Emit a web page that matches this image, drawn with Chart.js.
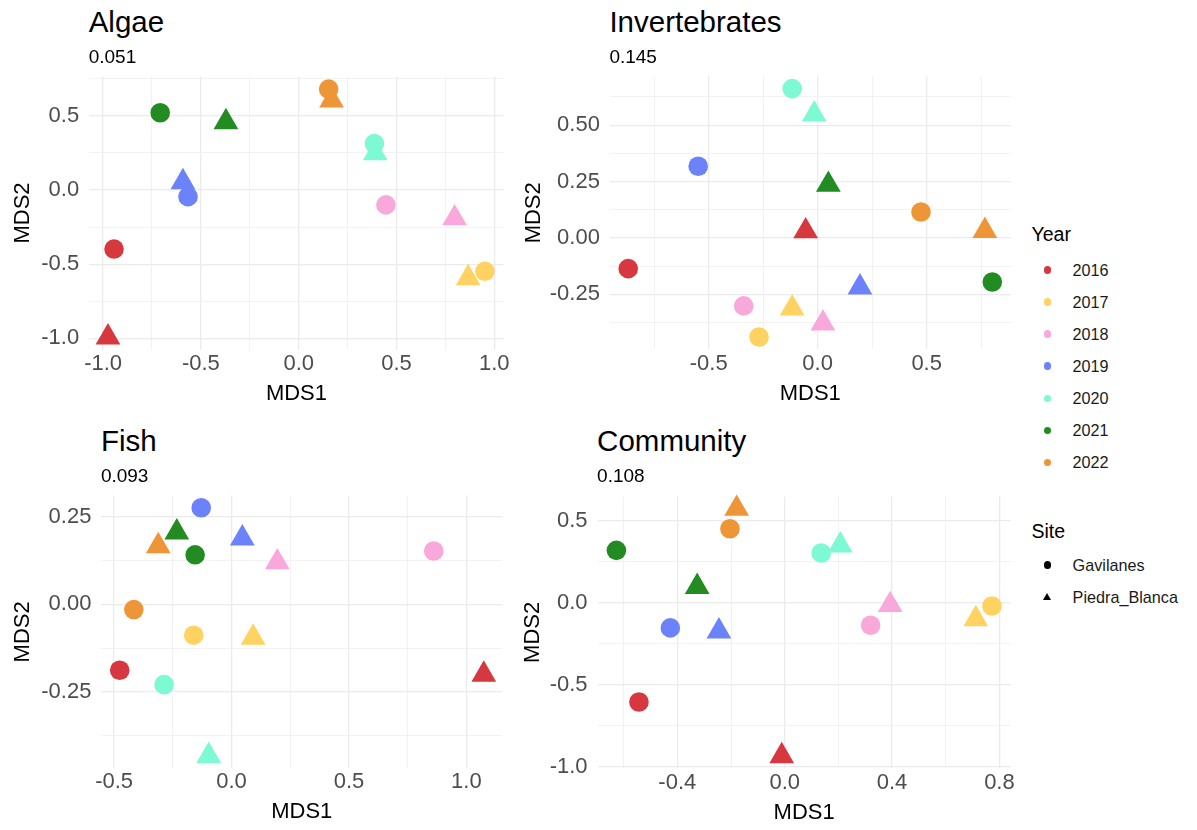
<!DOCTYPE html>
<html>
<head>
<meta charset="utf-8">
<script src="https://cdn.jsdelivr.net/npm/chart.js@4.4.1/dist/chart.umd.min.js"></script>
<style>
html, body { margin: 0; padding: 0; background: #ffffff; }
body { width: 1197px; height: 830px; position: relative; overflow: hidden;
       font-family: "Liberation Sans", Arial, Helvetica, sans-serif; }
canvas.panel { position: absolute; }
.txt { position: absolute; white-space: nowrap; line-height: 1; color: #000; }
.key { position: absolute; }
</style>
</head>
<body>
<script>
// ---------------- data ----------------
const years = ['2016', '2017', '2018', '2019', '2020', '2021', '2022'];
const sites = ['Gavilanes', 'Piedra_Blanca'];
const panelTitles = ['Algae', 'Invertebrates', 'Fish', 'Community'];
const stressValues = ['0.051', '0.145', '0.093', '0.108'];

// Algae (index = year)
const algaeGavMDS1 = [-0.944, 0.952, 0.446, -0.566, 0.387, -0.708, 0.153];
const algaeGavMDS2 = [-0.398, -0.548, -0.100, -0.045, 0.313, 0.521, 0.680];
const algaePbMDS1  = [-0.975, 0.866, 0.797, -0.592, 0.391, -0.372, 0.168];
const algaePbMDS2  = [-0.993, -0.593, -0.190, 0.054, 0.248, 0.458, 0.604];

// Invertebrates
const invGavMDS1 = [-0.869, -0.269, -0.339, -0.548, -0.117, 0.801, 0.474];
const invGavMDS2 = [-0.136, -0.439, -0.301, 0.318, 0.662, -0.195, 0.115];
const invPbMDS1  = [-0.055, -0.117, 0.024, 0.194, -0.016, 0.049, 0.767];
const invPbMDS2  = [0.030, -0.312, -0.378, -0.219, 0.548, 0.236, 0.032];

// Fish
const fishGavMDS1 = [-0.476, -0.161, 0.861, -0.129, -0.287, -0.155, -0.416];
const fishGavMDS2 = [-0.188, -0.088, 0.152, 0.275, -0.229, 0.141, -0.015];
const fishPbMDS1  = [1.074, 0.092, 0.195, 0.046, -0.097, -0.233, -0.312];
const fishPbMDS2  = [-0.200, -0.095, 0.120, 0.188, -0.432, 0.205, 0.166];

// Community
const comGavMDS1 = [-0.543, 0.772, 0.320, -0.426, 0.136, -0.627, -0.204];
const comGavMDS2 = [-0.604, -0.018, -0.136, -0.152, 0.305, 0.321, 0.453];
const comPbMDS1  = [-0.011, 0.712, 0.393, -0.245, 0.207, -0.326, -0.179];
const comPbMDS2  = [-0.933, -0.098, -0.012, -0.173, 0.352, 0.099, 0.575];

// tick values (grid) and tick labels ('' = minor grid line)
const algaeXTicks  = [-1.0, -0.75, -0.5, -0.25, 0, 0.25, 0.5, 0.75, 1.0];
const algaeXLabels = ['-1.0', '', '-0.5', '', '0.0', '', '0.5', '', '1.0'];
const algaeYTicks  = [-1.0, -0.75, -0.5, -0.25, 0, 0.25, 0.5, 0.75];
const algaeYLabels = ['-1.0', '', '-0.5', '', '0.0', '', '0.5', ''];

const invXTicks  = [-0.75, -0.5, -0.25, 0, 0.25, 0.5, 0.75];
const invXLabels = ['', '-0.5', '', '0.0', '', '0.5', ''];
const invYTicks  = [-0.375, -0.25, -0.125, 0, 0.125, 0.25, 0.375, 0.5, 0.625];
const invYLabels = ['', '-0.25', '', '0.00', '', '0.25', '', '0.50', ''];

const fishXTicks  = [-0.5, -0.25, 0, 0.25, 0.5, 0.75, 1.0];
const fishXLabels = ['-0.5', '', '0.0', '', '0.5', '', '1.0'];
const fishYTicks  = [-0.375, -0.25, -0.125, 0, 0.125, 0.25];
const fishYLabels = ['', '-0.25', '', '0.00', '', '0.25'];

const comXTicks  = [-0.6, -0.4, -0.2, 0, 0.2, 0.4, 0.6, 0.8];
const comXLabels = ['', '-0.4', '', '0.0', '', '0.4', '', '0.8'];
const comYTicks  = [-1.0, -0.75, -0.5, -0.25, 0, 0.25, 0.5];
const comYLabels = ['-1.0', '', '-0.5', '', '0.0', '', '0.5'];

// axis limits
const algaeXRange = [-1.071, 1.048], algaeYRange = [-1.077, 0.767];
const invXRange   = [-0.953, 0.885], invYRange   = [-0.494, 0.717];
const fishXRange  = [-0.554, 1.152], fishYRange  = [-0.467, 0.310];
const comXRange   = [-0.697, 0.842], comYRange   = [-1.008, 0.650];

// ---------------- styles ----------------
const yearColors = ['#D7373F', '#FFD262', '#F8A8DA', '#6B82FB', '#7DF9D3', '#228B22', '#EE9537'];
const FONT = '"Liberation Sans", Arial, Helvetica, sans-serif';
Chart.defaults.font.family = FONT;

const panels = [
  { title: panelTitles[0], stress: stressValues[0],
    gx: algaeGavMDS1, gy: algaeGavMDS2, px: algaePbMDS1, py: algaePbMDS2,
    xt: algaeXTicks, xl: algaeXLabels, yt: algaeYTicks, yl: algaeYLabels,
    xr: algaeXRange, yr: algaeYRange,
    box: { cx: 0, cy: 46, cw: 524, ch: 361 }, plot: { L: 89.2, T: 76.2, R: 503.7, B: 349.8 },
    ytPad: 10.1, titleBase: 31.7, subBase: 63.3 },
  { title: panelTitles[1], stress: stressValues[1],
    gx: invGavMDS1, gy: invGavMDS2, px: invPbMDS1, py: invPbMDS2,
    xt: invXTicks, xl: invXLabels, yt: invYTicks, yl: invYLabels,
    xr: invXRange, yr: invYRange,
    box: { cx: 520, cy: 46, cw: 511, ch: 361 }, plot: { L: 609.9, T: 76.2, R: 1010.6, B: 349.4 },
    ytPad: 0.5, titleBase: 31.7, subBase: 63.3 },
  { title: panelTitles[2], stress: stressValues[2],
    gx: fishGavMDS1, gy: fishGavMDS2, px: fishPbMDS1, py: fishPbMDS2,
    xt: fishXTicks, xl: fishXLabels, yt: fishYTicks, yl: fishYLabels,
    xr: fishXRange, yr: fishYRange,
    box: { cx: 0, cy: 465, cw: 522, ch: 360 }, plot: { L: 101.4, T: 495.5, R: 502.1, B: 768.2 },
    ytPad: 10.1, titleBase: 450.5, subBase: 481.6 },
  { title: panelTitles[3], stress: stressValues[3],
    gx: comGavMDS1, gy: comGavMDS2, px: comPbMDS1, py: comPbMDS2,
    xt: comXTicks, xl: comXLabels, yt: comYTicks, yl: comYLabels,
    xr: comXRange, yr: comYRange,
    box: { cx: 520, cy: 466, cw: 511, ch: 360 }, plot: { L: 597.6, T: 496.4, R: 1010.7, B: 768.3 },
    ytPad: 0, titleBase: 450.5, subBase: 481.6 }
];

function labelFor(ticks, labels, v) {
  const i = ticks.findIndex(t => Math.abs(t - v) < 1e-9);
  return i < 0 ? '' : labels[i];
}
function gridColor(ticks, labels) {
  return ctx => (ctx.tick && labelFor(ticks, labels, ctx.tick.value) !== '') ? '#EBEBEB' : '#F1F1F1';
}
function gridWidth(ticks, labels) {
  return ctx => (ctx.tick && labelFor(ticks, labels, ctx.tick.value) !== '') ? 1.3 : 0.9;
}
function addText(text, left, baseline, size, extra) {
  const d = document.createElement('div');
  d.className = 'txt';
  d.textContent = text;
  d.style.fontSize = size + 'px';
  d.style.left = left + 'px';
  d.style.top = (baseline - 0.8465 * size) + 'px';
  if (extra) Object.assign(d.style, extra);
  document.body.appendChild(d);
  return d;
}

panels.forEach(p => {
  const c = document.createElement('canvas');
  c.className = 'panel';
  c.width = p.box.cw; c.height = p.box.ch;
  c.style.left = p.box.cx + 'px'; c.style.top = p.box.cy + 'px';
  c.style.width = p.box.cw + 'px'; c.style.height = p.box.ch + 'px';
  document.body.appendChild(c);

  const yAxisW = p.plot.L - p.box.cx;
  const xAxisH = p.box.cy + p.box.ch - p.plot.B;

  new Chart(c, {
    type: 'scatter',
    data: {
      datasets: [
        { label: sites[0],
          data: p.gx.map((x, i) => ({ x: x, y: p.gy[i] })),
          pointStyle: 'circle', pointRadius: 9.8, pointHoverRadius: 9.8,
          backgroundColor: yearColors, borderWidth: 0, clip: false },
        { label: sites[1],
          data: p.px.map((x, i) => ({ x: x, y: p.py[i] })),
          pointStyle: 'triangle', pointRadius: 14.3, pointHoverRadius: 14.3,
          backgroundColor: yearColors, borderWidth: 0, clip: false }
      ]
    },
    options: {
      responsive: false, animation: false, devicePixelRatio: 1,
      events: [],
      layout: { padding: { left: 0, bottom: 0,
                           top: p.plot.T - p.box.cy,
                           right: p.box.cx + p.box.cw - p.plot.R } },
      plugins: { legend: { display: false }, tooltip: { enabled: false }, title: { display: false } },
      scales: {
        x: {
          type: 'linear', position: 'bottom', min: p.xr[0], max: p.xr[1],
          afterBuildTicks: s => { s.ticks = p.xt.map(v => ({ value: v })); },
          afterFit: s => { s.height = xAxisH; },
          ticks: { autoSkip: false, maxRotation: 0, minRotation: 0, padding: 1,
                   color: '#4D4D4D', font: { size: 22, family: FONT },
                   callback: v => labelFor(p.xt, p.xl, v) },
          grid: { drawTicks: false, color: gridColor(p.xt, p.xl), lineWidth: gridWidth(p.xt, p.xl) },
          border: { display: false },
          title: { display: true, text: 'MDS1', color: '#000', font: { size: 22, family: FONT },
                   padding: { top: 0, bottom: 0 } }
        },
        y: {
          type: 'linear', position: 'left', min: p.yr[0], max: p.yr[1],
          afterBuildTicks: s => { s.ticks = p.yt.map(v => ({ value: v })); },
          afterFit: s => { s.width = yAxisW; },
          ticks: { autoSkip: false, padding: 10,
                   color: '#4D4D4D', font: { size: 22, family: FONT },
                   callback: v => labelFor(p.yt, p.yl, v) },
          grid: { drawTicks: false, color: gridColor(p.yt, p.yl), lineWidth: gridWidth(p.yt, p.yl) },
          border: { display: false },
          title: { display: true, text: 'MDS2', color: '#000', font: { size: 22, family: FONT },
                   padding: { top: p.ytPad, bottom: 0 } }
        }
      }
    }
  });

  addText(p.title, p.plot.L - 0.5, p.titleBase, 29.5);
  addText(p.stress, p.plot.L - 0.5, p.subBase, 19);
});

// ---------------- legend ----------------
addText('Year', 1031.5, 241.7, 19.5);
years.forEach((y, i) => {
  const cy = 270 + i * 32.05;
  const dot = document.createElement('div');
  dot.className = 'key';
  Object.assign(dot.style, { left: (1047.3 - 3.7) + 'px', top: (cy - 3.7) + 'px', width: '7.4px', height: '7.4px',
                             borderRadius: '50%', background: yearColors[i] });
  document.body.appendChild(dot);
  addText(y, 1072.6, cy + 5.8, 16.2, { color: '#1A1A1A' });
});
addText('Site', 1031.5, 538.3, 19.5);
sites.forEach((s, i) => {
  const cy = 565 + i * 31.7;
  const k = document.createElement('div');
  k.className = 'key';
  if (i === 0) {
    Object.assign(k.style, { left: (1047.3 - 3.6) + 'px', top: (cy - 3.6) + 'px', width: '7.2px', height: '7.2px',
                             borderRadius: '50%', background: '#000' });
  } else {
    Object.assign(k.style, { left: (1047.3 - 4.2) + 'px', top: (cy - 4.2) + 'px', width: '0', height: '0',
                             borderLeft: '4.2px solid transparent', borderRight: '4.2px solid transparent',
                             borderBottom: '7.3px solid #000' });
  }
  document.body.appendChild(k);
  addText(s, 1072.6, cy + 5.8, 16.2, { color: '#1A1A1A' });
});
</script>
</body>
</html>
